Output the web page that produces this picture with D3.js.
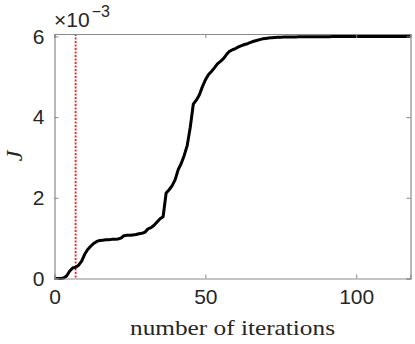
<!DOCTYPE html>
<html><head><meta charset="utf-8">
<script src="https://cdn.jsdelivr.net/npm/d3@7"></script>
<style>html,body{margin:0;padding:0;background:#fff;}svg{display:block;}</style>
</head><body>
<svg id="c" width="415" height="344"></svg>
<script>
// Data (J in units of 1e-3), iteration index = position in array
const iterations = d3.range(0, 119);
const Jvalues = [
  0, 0, 0, 0.01, 0.06, 0.18, 0.26, 0.28, 0.33, 0.43,
  0.6, 0.72, 0.8, 0.87, 0.92, 0.94, 0.95, 0.96, 0.96, 0.97,
  0.97, 0.98, 1.0, 1.06, 1.07, 1.07, 1.08, 1.09, 1.11, 1.12,
  1.15, 1.23, 1.26, 1.32, 1.4, 1.48, 1.53, 2.12, 2.2, 2.3,
  2.45, 2.7, 2.85, 3.05, 3.3, 3.75, 4.32, 4.42, 4.55, 4.75,
  4.92, 5.05, 5.13, 5.22, 5.32, 5.38, 5.45, 5.55, 5.63, 5.67,
  5.7, 5.74, 5.77, 5.8, 5.82, 5.85, 5.88, 5.9, 5.92, 5.94,
  5.95, 5.96, 5.97, 5.975, 5.98, 5.982, 5.984, 5.985, 5.986, 5.987,
  5.988, 5.989, 5.99, 5.99, 5.991, 5.991, 5.992, 5.992, 5.993, 5.993,
  5.994, 5.994, 5.995, 5.995, 5.995, 5.996, 5.996, 5.996, 5.997, 5.997,
  5.997, 5.997, 5.998, 5.998, 5.998, 5.998, 5.999, 5.999, 5.999, 5.999,
  6.0, 6.0, 6.0, 6.0, 6.0, 6.0, 6.0, 6.0, 6.0
];
const markerIteration = [7];
const xTicks = [0, 50, 100];
const yTicks = [0, 2, 4, 6];
const xLabel = "number of iterations";
const yLabel = "J";

const svg = d3.select("#c");
const L = 54.5, R = 410.5, T = 34, B = 278.5;
const x = d3.scaleLinear().domain([0, 118]).range([L, R]);
const y = d3.scaleLinear().domain([0, 6.06]).range([B, T]);
const axisColor = "#8a8a8a";
const textColor = "#262626";

// red dotted marker line
svg.selectAll("line.marker").data(markerIteration).enter().append("line")
  .attr("x1", d => x(d)).attr("x2", d => x(d))
  .attr("y1", T).attr("y2", B)
  .attr("stroke", "#ff1a1a").attr("stroke-width", 1.8)
  .attr("stroke-dasharray", "2,1.5");

// curve
const line = d3.line().x((d, i) => x(iterations[i])).y(d => y(d));
svg.append("path").datum(Jvalues)
  .attr("d", line).attr("fill", "none")
  .attr("stroke", "#000").attr("stroke-width", 3)
  .attr("stroke-linejoin", "round");

// axes (box with inward ticks)
const tl = 4;
const gx = svg.append("g").attr("transform", `translate(0,${B})`)
  .call(d3.axisBottom(x).tickValues(xTicks).tickSize(-tl).tickPadding(11).tickFormat(d3.format("d")));
const gxt = svg.append("g").attr("transform", `translate(0,${T})`)
  .call(d3.axisTop(x).tickValues(xTicks).tickSize(-tl).tickFormat(""));
const gy = svg.append("g").attr("transform", `translate(${L},0)`)
  .call(d3.axisLeft(y).tickValues(yTicks).tickSize(-tl).tickPadding(10).tickFormat(d3.format("d")));
const gyr = svg.append("g").attr("transform", `translate(${R},0)`)
  .call(d3.axisRight(y).tickValues(yTicks).tickSize(-tl).tickFormat(""));
[gx, gxt, gy, gyr].forEach(g => {
  g.select(".domain").attr("stroke", axisColor).attr("stroke-width", 1.2);
  g.selectAll(".tick line").attr("stroke", axisColor).attr("stroke-width", 1);
  g.selectAll(".tick text").attr("fill", textColor)
    .style("font-family", "'Liberation Sans', Arial, sans-serif").style("font-size", "21px");
});

// exponent label
const ex = svg.append("text").attr("x", 54).attr("y", 27)
  .attr("fill", textColor).style("font-family", "'Liberation Sans', Arial, sans-serif").style("font-size", "21px");
ex.append("tspan").text("\u00d710");
ex.append("tspan").attr("dy", -10).attr("dx", 2).style("font-size", "16px").text("\u2212" + "3");

// axis labels
svg.append("text").attr("x", 232.5).attr("y", 335)
  .attr("text-anchor", "middle").attr("fill", textColor)
  .attr("textLength", 205).attr("lengthAdjust", "spacingAndGlyphs")
  .style("font-family", "'Liberation Serif', 'Times New Roman', serif").style("font-size", "22px")
  .text(xLabel);
svg.append("text").attr("transform", "translate(22,156) rotate(-90)")
  .attr("text-anchor", "middle").attr("fill", textColor)
  .style("font-family", "'Liberation Serif', 'Times New Roman', serif").style("font-style", "italic").style("font-size", "24px")
  .text(yLabel);
</script>
</body></html>
